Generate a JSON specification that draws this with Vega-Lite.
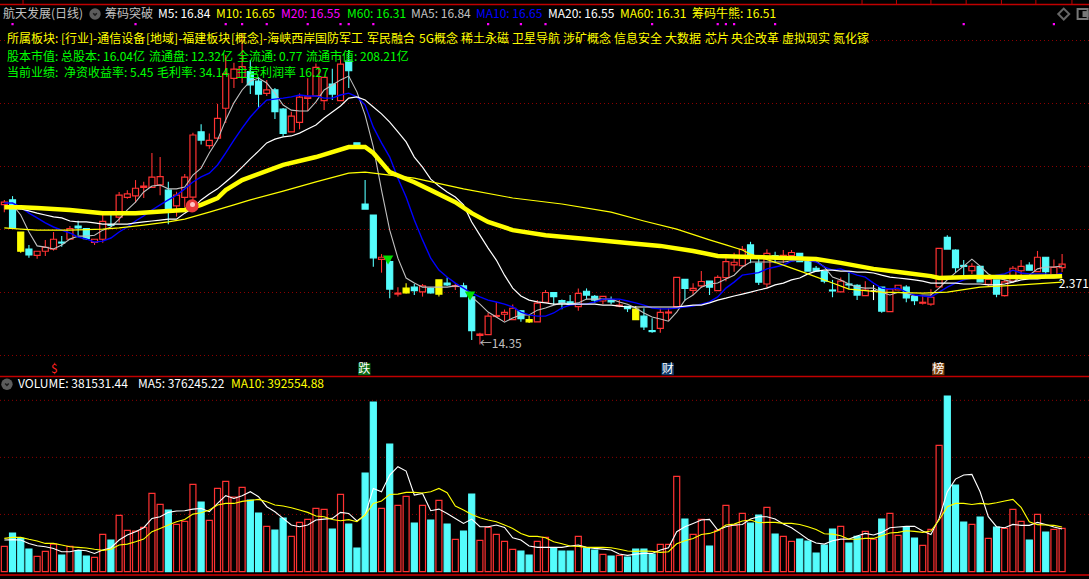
{"$schema":"https://vega.github.io/schema/vega-lite/v6.json","background":"#000000","padding":0,"autosize":{"type":"none"},"width":1089,"height":579,"config":{"view":{"stroke":null},"text":{"font":"Noto Sans CJK SC"}},
"datasets":{"bars":[
{"i":0,"k":"up","o":18.79,"h":18.94,"l":18.55,"c":18.87,"m10":18.84,"vol":222.9,"vk":"up","v5":279,"v10":293},
{"i":1,"k":"down","o":18.94,"h":19.06,"l":18.05,"c":18.05,"m5":18.78,"m10":18.84,"m20":18.68,"vol":340.2,"vk":"down","v5":282,"v10":302},
{"i":2,"k":"yel","o":17.92,"h":17.92,"l":17.26,"c":17.31,"m5":18.46,"m10":18.71,"m20":18.65,"vol":293.3,"vk":"down","v5":279,"v10":302},
{"i":3,"k":"down","o":17.38,"h":17.51,"l":17.10,"c":17.19,"m5":17.92,"m10":18.52,"m20":18.59,"vol":199.4,"vk":"down","v5":249,"v10":285},
{"i":4,"k":"up","o":17.18,"h":17.31,"l":17.07,"c":17.31,"m5":17.48,"m10":18.37,"m20":18.52,"vol":134.9,"vk":"up","v5":229,"v10":270},
{"i":5,"k":"up","o":17.31,"h":17.67,"l":17.16,"c":17.43,"m5":17.44,"m10":18.21,"m20":18.46,"vol":178.9,"vk":"up","v5":220,"v10":249},
{"i":6,"k":"up","o":17.38,"h":17.92,"l":17.33,"c":17.69,"m5":17.38,"m10":18.08,"m20":18.40,"vol":243.4,"vk":"up","v5":205,"v10":249},
{"i":7,"k":"down","o":17.60,"h":17.79,"l":17.45,"c":17.57,"m5":17.51,"m10":17.98,"m20":18.37,"vol":146.7,"vk":"down","v5":176,"v10":235},
{"i":8,"k":"up","o":17.69,"h":18.11,"l":17.67,"c":18.03,"m5":17.70,"m10":17.89,"m20":18.27,"vol":222.9,"vk":"up","v5":176,"v10":220},
{"i":9,"k":"down","o":18.11,"h":18.28,"l":17.82,"c":18.05,"m5":17.79,"m10":17.76,"m20":18.24,"vol":184.8,"vk":"down","v5":191,"v10":214},
{"i":10,"k":"down","o":18.03,"h":18.03,"l":17.67,"c":17.71,"m5":17.79,"m10":17.70,"m20":18.24,"vol":137.9,"vk":"down","v5":185,"v10":208},
{"i":11,"k":"up","o":17.59,"h":17.69,"l":17.51,"c":17.69,"m5":17.82,"m10":17.60,"m20":18.21,"vol":126.1,"vk":"up","v5":161,"v10":197},
{"i":12,"k":"up","o":17.69,"h":18.46,"l":17.58,"c":18.26,"m5":17.98,"m10":17.63,"m20":18.17,"vol":328.5,"vk":"up","v5":191,"v10":188},
{"i":13,"k":"down","o":18.15,"h":18.59,"l":18.09,"c":18.13,"m5":18.08,"m10":17.73,"m20":18.17,"vol":278.6,"vk":"down","v5":211,"v10":197},
{"i":14,"k":"up","o":18.39,"h":19.19,"l":18.22,"c":19.09,"m5":18.33,"m10":17.92,"m20":18.17,"vol":495.7,"vk":"up","v5":279,"v10":235},
{"i":15,"k":"up","o":19.02,"h":19.25,"l":18.98,"c":19.13,"m5":18.62,"m10":18.08,"m20":18.17,"vol":363.7,"vk":"up","v5":323,"v10":243},
{"i":16,"k":"up","o":19.07,"h":19.57,"l":18.85,"c":19.31,"m5":18.87,"m10":18.27,"m20":18.21,"vol":357.8,"vk":"up","v5":352,"v10":264},
{"i":17,"k":"up","o":19.34,"h":19.52,"l":19.00,"c":19.38,"m5":19.19,"m10":18.43,"m20":18.24,"vol":390.1,"vk":"up","v5":387,"v10":287},
{"i":18,"k":"up","o":19.34,"h":20.43,"l":19.34,"c":19.66,"m5":19.38,"m10":18.62,"m20":18.27,"vol":689.3,"vk":"up","v5":469,"v10":352},
{"i":19,"k":"up","o":19.42,"h":20.30,"l":19.09,"c":19.68,"m5":19.41,"m10":18.78,"m20":18.30,"vol":592.5,"vk":"up","v5":484,"v10":381},
{"i":20,"k":"down","o":19.25,"h":19.52,"l":18.17,"c":18.64,"m5":19.29,"m10":18.94,"m20":18.33,"vol":542.6,"vk":"down","v5":522,"v10":411},
{"i":21,"k":"up","o":18.75,"h":19.20,"l":18.41,"c":19.09,"m5":19.29,"m10":19.09,"m20":18.33,"vol":416.5,"vk":"up","v5":534,"v10":440},
{"i":22,"k":"up","o":19.02,"h":19.76,"l":18.71,"c":19.66,"m5":19.35,"m10":19.29,"m20":18.52,"vol":442.9,"vk":"up","v5":537,"v10":460},
{"i":23,"k":"up","o":19.03,"h":21.07,"l":18.78,"c":21.00,"m5":19.73,"m10":19.51,"m20":18.68,"vol":768.4,"vk":"up","v5":551,"v10":507},
{"i":24,"k":"down","o":21.10,"h":21.34,"l":20.70,"c":20.84,"m5":19.95,"m10":19.67,"m20":18.94,"vol":613.0,"vk":"down","v5":557,"v10":519},
{"i":25,"k":"up","o":20.66,"h":21.05,"l":20.56,"c":20.83,"m5":20.43,"m10":19.79,"m20":19.13,"vol":451.7,"vk":"up","v5":528,"v10":543},
{"i":26,"k":"up","o":20.90,"h":21.99,"l":20.90,"c":21.53,"m5":20.84,"m10":20.05,"m20":19.29,"vol":733.3,"vk":"up","v5":601,"v10":587},
{"i":27,"k":"up","o":21.85,"h":23.54,"l":21.38,"c":22.94,"m5":21.48,"m10":20.43,"m20":19.51,"vol":794.8,"vk":"up","v5":669,"v10":601},
{"i":28,"k":"up","o":22.80,"h":23.29,"l":22.49,"c":23.09,"m5":22.02,"m10":20.84,"m20":19.73,"vol":657.0,"vk":"up","v5":645,"v10":601},
{"i":29,"k":"up","o":22.83,"h":24.24,"l":22.65,"c":23.17,"m5":22.43,"m10":21.22,"m20":19.98,"vol":742.0,"vk":"up","v5":669,"v10":619},
{"i":30,"k":"down","o":23.01,"h":23.38,"l":22.30,"c":22.59,"m5":22.71,"m10":21.57,"m20":20.24,"vol":630.6,"vk":"down","v5":704,"v10":628},
{"i":31,"k":"down","o":22.71,"h":22.84,"l":21.86,"c":22.30,"m5":22.81,"m10":21.86,"m20":20.49,"vol":516.2,"vk":"down","v5":660,"v10":636},
{"i":32,"k":"up","o":22.32,"h":22.75,"l":22.24,"c":22.43,"m5":22.65,"m10":22.11,"m20":20.75,"vol":398.9,"vk":"up","v5":572,"v10":616},
{"i":33,"k":"down","o":22.43,"h":22.49,"l":21.51,"c":21.74,"m5":22.33,"m10":22.14,"m20":20.87,"vol":366.6,"vk":"down","v5":528,"v10":587},
{"i":34,"k":"down","o":21.82,"h":21.86,"l":20.95,"c":21.05,"m5":21.95,"m10":22.17,"m20":20.94,"vol":472.2,"vk":"down","v5":469,"v10":578},
{"i":35,"k":"up","o":21.10,"h":21.74,"l":21.10,"c":21.60,"m5":21.79,"m10":22.21,"m20":20.97,"vol":310.9,"vk":"up","v5":411,"v10":563},
{"i":36,"k":"up","o":21.40,"h":22.32,"l":21.18,"c":22.20,"m5":21.76,"m10":22.27,"m20":21.06,"vol":434.1,"vk":"up","v5":396,"v10":543},
{"i":37,"k":"up","o":22.16,"h":22.80,"l":21.76,"c":22.21,"m5":21.76,"m10":22.24,"m20":21.19,"vol":460.5,"vk":"up","v5":411,"v10":522},
{"i":38,"k":"up","o":22.24,"h":23.27,"l":22.24,"c":23.15,"m5":22.05,"m10":22.24,"m20":21.32,"vol":557.3,"vk":"up","v5":455,"v10":490},
{"i":39,"k":"up","o":22.09,"h":22.83,"l":21.79,"c":22.83,"m5":22.43,"m10":22.17,"m20":21.54,"vol":548.5,"vk":"up","v5":463,"v10":484},
{"i":40,"k":"down","o":22.62,"h":23.10,"l":22.11,"c":22.30,"m5":22.59,"m10":22.17,"m20":21.73,"vol":375.4,"vk":"down","v5":469,"v10":460},
{"i":41,"k":"up","o":22.09,"h":23.54,"l":22.09,"c":23.25,"m5":22.75,"m10":22.27,"m20":21.92,"vol":680.5,"vk":"up","v5":522,"v10":449},
{"i":42,"k":"down","o":23.35,"h":23.70,"l":22.49,"c":23.04,"m5":22.87,"m10":22.33,"m20":22.17,"vol":419.4,"vk":"down","v5":513,"v10":458},
{"i":43,"k":"down","o":20.75,"h":20.75,"l":20.68,"c":20.68,"m5":22.37,"m10":22.21,"m20":22.21,"vol":208.2,"vk":"down","v5":446,"v10":440},
{"i":44,"k":"down","o":18.81,"h":19.57,"l":18.65,"c":18.65,"m5":21.63,"m10":21.95,"m20":22.11,"vol":868.2,"vk":"down","v5":499,"v10":499},
{"i":45,"k":"down","o":18.46,"h":18.46,"l":16.82,"c":17.10,"m5":20.62,"m10":21.25,"m20":21.89,"vol":1492.9,"vk":"down","v5":733,"v10":601},
{"i":46,"k":"up","o":17.05,"h":17.22,"l":16.63,"c":17.12,"m5":19.25,"m10":20.75,"m20":21.67,"vol":557.3,"vk":"up","v5":704,"v10":622},
{"i":47,"k":"down","o":16.98,"h":17.16,"l":15.82,"c":16.11,"m5":17.98,"m10":20.30,"m20":21.41,"vol":1123.3,"vk":"down","v5":851,"v10":680},
{"i":48,"k":"up","o":15.95,"h":16.17,"l":15.87,"c":15.98,"m5":17.09,"m10":19.63,"m20":21.10,"vol":583.7,"vk":"up","v5":924,"v10":683},
{"i":49,"k":"yel","o":16.14,"h":16.29,"l":15.97,"c":15.99,"m5":16.46,"m10":19.03,"m20":20.78,"vol":662.9,"vk":"up","v5":886,"v10":698},
{"i":50,"k":"down","o":16.17,"h":16.27,"l":15.92,"c":16.06,"m5":16.30,"m10":18.30,"m20":20.30,"vol":428.2,"vk":"down","v5":675,"v10":698},
{"i":51,"k":"up","o":16.02,"h":16.27,"l":15.87,"c":16.21,"m5":16.17,"m10":17.67,"m20":19.98,"vol":583.7,"vk":"up","v5":689,"v10":692},
{"i":52,"k":"down","o":16.13,"h":16.16,"l":15.97,"c":15.99,"m5":16.17,"m10":17.09,"m20":19.60,"vol":454.6,"vk":"down","v5":537,"v10":704},
{"i":53,"k":"yel","o":16.40,"h":16.40,"l":15.87,"c":15.95,"m5":16.17,"m10":16.71,"m20":19.38,"vol":627.7,"vk":"up","v5":551,"v10":733},
{"i":54,"k":"down","o":16.30,"h":16.48,"l":16.21,"c":16.24,"m5":16.17,"m10":16.49,"m20":19.19,"vol":419.4,"vk":"down","v5":513,"v10":695},
{"i":55,"k":"up","o":16.19,"h":16.29,"l":16.08,"c":16.22,"m5":16.21,"m10":16.30,"m20":19.03,"vol":284.5,"vk":"up","v5":469,"v10":578},
{"i":56,"k":"down","o":16.21,"h":16.31,"l":15.87,"c":15.87,"m5":16.17,"m10":16.14,"m20":18.78,"vol":357.8,"vk":"down","v5":425,"v10":543},
{"i":57,"k":"down","o":15.86,"h":15.98,"l":14.49,"c":14.79,"m5":15.86,"m10":15.98,"m20":18.24,"vol":683.4,"vk":"down","v5":463,"v10":504},
{"i":58,"k":"up","o":14.64,"h":14.72,"l":14.35,"c":14.68,"m5":15.63,"m10":15.86,"m20":17.82,"vol":275.7,"vk":"up","v5":396,"v10":475},
{"i":59,"k":"up","o":14.66,"h":15.35,"l":14.66,"c":15.25,"m5":15.38,"m10":15.76,"m20":17.41,"vol":390.1,"vk":"up","v5":396,"v10":455},
{"i":60,"k":"up","o":15.24,"h":15.69,"l":15.21,"c":15.27,"m5":15.22,"m10":15.70,"m20":17.03,"vol":328.5,"vk":"up","v5":411,"v10":440},
{"i":61,"k":"up","o":15.31,"h":15.46,"l":15.09,"c":15.37,"m5":15.06,"m10":15.63,"m20":16.55,"vol":266.9,"vk":"up","v5":390,"v10":411},
{"i":62,"k":"up","o":15.14,"h":15.62,"l":15.14,"c":15.50,"m5":15.19,"m10":15.54,"m20":16.14,"vol":196.5,"vk":"up","v5":299,"v10":381},
{"i":63,"k":"down","o":15.42,"h":15.44,"l":15.07,"c":15.17,"m5":15.29,"m10":15.38,"m20":15.89,"vol":181.8,"vk":"down","v5":279,"v10":337},
{"i":64,"k":"yel","o":15.14,"h":15.28,"l":15.03,"c":15.07,"m5":15.29,"m10":15.29,"m20":15.76,"vol":146.7,"vk":"down","v5":226,"v10":311},
{"i":65,"k":"up","o":15.07,"h":15.76,"l":15.07,"c":15.66,"m5":15.44,"m10":15.25,"m20":15.70,"vol":266.9,"vk":"up","v5":214,"v10":311},
{"i":66,"k":"up","o":15.69,"h":16.08,"l":15.69,"c":16.00,"m5":15.51,"m10":15.25,"m20":15.67,"vol":302.1,"vk":"up","v5":214,"v10":299},
{"i":67,"k":"down","o":16.00,"h":16.00,"l":15.60,"c":15.87,"m5":15.60,"m10":15.35,"m20":15.63,"vol":208.2,"vk":"down","v5":214,"v10":264},
{"i":68,"k":"down","o":15.74,"h":15.78,"l":15.47,"c":15.68,"m5":15.67,"m10":15.51,"m20":15.63,"vol":181.8,"vk":"down","v5":214,"v10":246},
{"i":69,"k":"down","o":15.70,"h":15.92,"l":15.60,"c":15.62,"m5":15.63,"m10":15.60,"m20":15.63,"vol":181.8,"vk":"down","v5":226,"v10":226},
{"i":70,"k":"up","o":15.55,"h":16.13,"l":15.42,"c":15.97,"m5":15.67,"m10":15.63,"m20":15.63,"vol":310.9,"vk":"up","v5":235,"v10":223},
{"i":71,"k":"down","o":16.04,"h":16.13,"l":15.78,"c":15.92,"m5":15.79,"m10":15.63,"m20":15.63,"vol":208.2,"vk":"down","v5":214,"v10":214},
{"i":72,"k":"down","o":15.88,"h":15.92,"l":15.67,"c":15.76,"m5":15.79,"m10":15.70,"m20":15.63,"vol":190.6,"vk":"down","v5":205,"v10":214},
{"i":73,"k":"up","o":15.73,"h":15.88,"l":15.63,"c":15.88,"m5":15.79,"m10":15.79,"m20":15.60,"vol":152.5,"vk":"up","v5":199,"v10":214},
{"i":74,"k":"down","o":15.76,"h":15.87,"l":15.63,"c":15.70,"m5":15.79,"m10":15.79,"m20":15.60,"vol":137.9,"vk":"down","v5":191,"v10":211},
{"i":75,"k":"up","o":15.57,"h":15.76,"l":15.53,"c":15.60,"m5":15.70,"m10":15.79,"m20":15.57,"vol":143.7,"vk":"up","v5":155,"v10":197},
{"i":76,"k":"down","o":15.56,"h":15.56,"l":15.38,"c":15.49,"m5":15.63,"m10":15.73,"m20":15.54,"vol":129.1,"vk":"down","v5":144,"v10":182},
{"i":77,"k":"yel","o":15.47,"h":15.57,"l":15.14,"c":15.14,"m5":15.51,"m10":15.67,"m20":15.54,"vol":199.4,"vk":"down","v5":155,"v10":179},
{"i":78,"k":"down","o":15.25,"h":15.50,"l":14.81,"c":14.91,"m5":15.35,"m10":15.60,"m20":15.54,"vol":199.4,"vk":"down","v5":161,"v10":182},
{"i":79,"k":"down","o":14.79,"h":15.18,"l":14.72,"c":14.76,"m5":15.22,"m10":15.51,"m20":15.54,"vol":155.4,"vk":"down","v5":161,"v10":179},
{"i":80,"k":"up","o":14.86,"h":15.50,"l":14.72,"c":15.37,"m5":15.16,"m10":15.48,"m20":15.54,"vol":240.5,"vk":"up","v5":191,"v10":170},
{"i":81,"k":"up","o":15.35,"h":15.50,"l":15.10,"c":15.38,"m5":15.09,"m10":15.48,"m20":15.54,"vol":240.5,"vk":"up","v5":211,"v10":176},
{"i":82,"k":"up","o":15.55,"h":16.48,"l":15.55,"c":16.48,"m5":15.38,"m10":15.51,"m20":15.54,"vol":838.8,"vk":"up","v5":352,"v10":246},
{"i":83,"k":"down","o":16.42,"h":16.42,"l":15.74,"c":16.13,"m5":15.76,"m10":15.54,"m20":15.57,"vol":463.4,"vk":"down","v5":396,"v10":273},
{"i":84,"k":"up","o":16.07,"h":16.29,"l":15.92,"c":16.13,"m5":15.92,"m10":15.57,"m20":15.60,"vol":328.5,"vk":"up","v5":425,"v10":293},
{"i":85,"k":"up","o":16.21,"h":16.68,"l":16.15,"c":16.35,"m5":16.17,"m10":15.63,"m20":15.60,"vol":460.5,"vk":"up","v5":455,"v10":328},
{"i":86,"k":"down","o":16.36,"h":16.36,"l":15.92,"c":16.17,"m5":16.27,"m10":15.70,"m20":15.67,"vol":225.8,"vk":"down","v5":460,"v10":337},
{"i":87,"k":"up","o":16.06,"h":16.55,"l":16.06,"c":16.48,"m5":16.30,"m10":15.86,"m20":15.76,"vol":363.7,"vk":"up","v5":367,"v10":361},
{"i":88,"k":"up","o":16.47,"h":17.10,"l":16.36,"c":16.98,"m5":16.43,"m10":16.14,"m20":15.82,"vol":583.7,"vk":"up","v5":396,"v10":411},
{"i":89,"k":"up","o":16.88,"h":17.26,"l":16.66,"c":16.96,"m5":16.55,"m10":16.33,"m20":15.89,"vol":407.7,"vk":"up","v5":411,"v10":419},
{"i":90,"k":"up","o":16.85,"h":17.48,"l":16.80,"c":17.37,"m5":16.81,"m10":16.55,"m20":15.95,"vol":513.3,"vk":"up","v5":416,"v10":446},
{"i":91,"k":"down","o":17.51,"h":17.61,"l":16.93,"c":17.09,"m5":16.97,"m10":16.59,"m20":16.01,"vol":428.2,"vk":"down","v5":463,"v10":455},
{"i":92,"k":"down","o":16.93,"h":17.09,"l":16.24,"c":16.33,"m5":16.97,"m10":16.63,"m20":16.08,"vol":498.6,"vk":"down","v5":484,"v10":431},
{"i":93,"k":"up","o":16.27,"h":17.37,"l":16.14,"c":17.24,"m5":16.97,"m10":16.75,"m20":16.14,"vol":566.1,"vk":"up","v5":484,"v10":434},
{"i":94,"k":"down","o":17.17,"h":17.29,"l":16.93,"c":17.14,"m5":16.97,"m10":16.81,"m20":16.24,"vol":331.4,"vk":"down","v5":463,"v10":434},
{"i":95,"k":"up","o":17.06,"h":17.35,"l":16.93,"c":17.18,"m5":16.97,"m10":16.87,"m20":16.30,"vol":310.9,"vk":"up","v5":419,"v10":425},
{"i":96,"k":"up","o":17.17,"h":17.35,"l":17.09,"c":17.27,"m5":17.00,"m10":17.00,"m20":16.40,"vol":266.9,"vk":"up","v5":387,"v10":425},
{"i":97,"k":"down","o":17.24,"h":17.24,"l":16.98,"c":16.98,"m5":17.03,"m10":17.03,"m20":16.46,"vol":287.4,"vk":"down","v5":337,"v10":416},
{"i":98,"k":"down","o":16.98,"h":16.98,"l":16.68,"c":16.68,"m5":17.00,"m10":17.03,"m20":16.59,"vol":269.8,"vk":"down","v5":285,"v10":396},
{"i":99,"k":"down","o":16.77,"h":16.84,"l":16.66,"c":16.68,"m5":17.00,"m10":16.97,"m20":16.68,"vol":164.2,"vk":"down","v5":252,"v10":372},
{"i":100,"k":"down","o":16.66,"h":16.66,"l":16.29,"c":16.36,"m5":16.81,"m10":16.81,"m20":16.71,"vol":234.6,"vk":"down","v5":243,"v10":334},
{"i":101,"k":"down","o":16.08,"h":16.40,"l":15.85,"c":16.05,"m5":16.49,"m10":16.71,"m20":16.71,"vol":375.4,"vk":"down","v5":273,"v10":331},
{"i":102,"k":"up","o":16.02,"h":16.48,"l":16.02,"c":16.36,"m5":16.40,"m10":16.75,"m20":16.68,"vol":398.9,"vk":"up","v5":287,"v10":317},
{"i":103,"k":"down","o":16.27,"h":16.63,"l":16.10,"c":16.24,"m5":16.27,"m10":16.65,"m20":16.68,"vol":252.2,"vk":"down","v5":287,"v10":285},
{"i":104,"k":"down","o":16.23,"h":16.26,"l":15.76,"c":15.92,"m5":16.17,"m10":16.55,"m20":16.65,"vol":310.9,"vk":"down","v5":314,"v10":285},
{"i":105,"k":"up","o":15.90,"h":16.36,"l":15.90,"c":16.08,"m5":16.14,"m10":16.49,"m20":16.65,"vol":354.9,"vk":"up","v5":337,"v10":293},
{"i":106,"k":"wht","o":16.05,"h":16.24,"l":15.76,"c":16.05,"m5":16.14,"m10":16.30,"m20":16.62,"vol":287.4,"vk":"up","v5":323,"v10":293},
{"i":107,"k":"down","o":16.17,"h":16.17,"l":15.36,"c":15.41,"m5":16.01,"m10":16.14,"m20":16.55,"vol":463.4,"vk":"down","v5":346,"v10":317},
{"i":108,"k":"up","o":15.39,"h":16.11,"l":15.39,"c":16.11,"m5":15.92,"m10":16.11,"m20":16.49,"vol":513.3,"vk":"up","v5":387,"v10":340},
{"i":109,"k":"up","o":16.08,"h":16.23,"l":16.08,"c":16.23,"m5":16.01,"m10":16.14,"m20":16.46,"vol":319.7,"vk":"up","v5":393,"v10":346},
{"i":110,"k":"down","o":16.17,"h":16.23,"l":15.69,"c":15.83,"m5":15.98,"m10":16.01,"m20":16.43,"vol":396.0,"vk":"down","v5":399,"v10":361},
{"i":111,"k":"down","o":15.87,"h":15.92,"l":15.60,"c":15.74,"m5":15.89,"m10":15.92,"m20":16.40,"vol":296.2,"vk":"down","v5":399,"v10":355},
{"i":112,"k":"up","o":15.66,"h":15.92,"l":15.62,"c":15.69,"m5":15.92,"m10":15.89,"m20":16.36,"vol":231.7,"vk":"up","v5":358,"v10":346},
{"i":113,"k":"up","o":15.63,"h":16.10,"l":15.58,"c":15.85,"m5":15.92,"m10":15.86,"m20":16.30,"vol":372.5,"vk":"up","v5":328,"v10":358},
{"i":114,"k":"up","o":16.18,"h":17.40,"l":16.18,"c":17.40,"m5":16.14,"m10":16.01,"m20":16.30,"vol":1111.6,"vk":"up","v5":469,"v10":455},
{"i":115,"k":"down","o":17.75,"h":17.82,"l":17.38,"c":17.38,"m5":16.40,"m10":16.17,"m20":16.30,"vol":1545.7,"vk":"down","v5":704,"v10":572},
{"i":116,"k":"down","o":17.35,"h":17.37,"l":16.63,"c":16.79,"m5":16.63,"m10":16.30,"m20":16.30,"vol":762.6,"vk":"down","v5":815,"v10":601},
{"i":117,"k":"down","o":16.86,"h":17.03,"l":16.55,"c":16.83,"m5":16.84,"m10":16.40,"m20":16.27,"vol":437.0,"vk":"down","v5":851,"v10":601},
{"i":118,"k":"up","o":16.69,"h":16.93,"l":16.59,"c":16.83,"m5":17.06,"m10":16.46,"m20":16.27,"vol":416.5,"vk":"up","v5":856,"v10":592},
{"i":119,"k":"down","o":16.83,"h":16.83,"l":16.34,"c":16.34,"m5":16.84,"m10":16.46,"m20":16.27,"vol":481.0,"vk":"down","v5":704,"v10":601},
{"i":120,"k":"up","o":16.26,"h":16.55,"l":16.18,"c":16.42,"m5":16.59,"m10":16.49,"m20":16.24,"vol":293.3,"vk":"up","v5":484,"v10":595},
{"i":121,"k":"down","o":16.40,"h":16.40,"l":15.85,"c":15.95,"m5":16.46,"m10":16.55,"m20":16.24,"vol":393.0,"vk":"down","v5":396,"v10":607},
{"i":122,"k":"up","o":15.90,"h":16.46,"l":15.87,"c":16.34,"m5":16.40,"m10":16.59,"m20":16.27,"vol":381.3,"vk":"up","v5":387,"v10":622},
{"i":123,"k":"up","o":16.36,"h":16.84,"l":16.36,"c":16.77,"m5":16.33,"m10":16.71,"m20":16.33,"vol":548.5,"vk":"up","v5":416,"v10":636},
{"i":124,"k":"up","o":16.69,"h":17.03,"l":16.55,"c":16.83,"m5":16.49,"m10":16.62,"m20":16.40,"vol":442.9,"vk":"up","v5":408,"v10":566},
{"i":125,"k":"down","o":16.87,"h":16.96,"l":16.71,"c":16.71,"m5":16.55,"m10":16.59,"m20":16.43,"vol":278.6,"vk":"down","v5":408,"v10":440},
{"i":126,"k":"up","o":16.66,"h":17.32,"l":16.66,"c":17.12,"m5":16.75,"m10":16.59,"m20":16.43,"vol":504.5,"vk":"up","v5":434,"v10":414},
{"i":127,"k":"down","o":17.12,"h":17.12,"l":16.52,"c":16.66,"m5":16.81,"m10":16.59,"m20":16.46,"vol":349.0,"vk":"down","v5":416,"v10":411},
{"i":128,"k":"up","o":16.55,"h":17.05,"l":16.55,"c":16.80,"m5":16.81,"m10":16.55,"m20":16.46,"vol":372.5,"vk":"up","v5":393,"v10":408},
{"i":129,"k":"up","o":16.79,"h":17.22,"l":16.65,"c":16.90,"m5":16.84,"m10":16.61,"m20":16.49,"vol":381.5,"vk":"up","v5":376,"v10":393}
],
"thick":[{"i":0,"p":18.71},{"i":2,"p":18.71},{"i":4,"p":18.68},{"i":8,"p":18.62},{"i":12,"p":18.52},{"i":16,"p":18.52},{"i":20,"p":18.59},{"i":22,"p":18.62},{"i":24,"p":18.78},{"i":26,"p":19.0},{"i":27,"p":19.25},{"i":29,"p":19.57},{"i":34,"p":20.05},{"i":38,"p":20.3},{"i":42,"p":20.62},{"i":44,"p":20.62},{"i":45,"p":20.43},{"i":47,"p":19.82},{"i":50,"p":19.5},{"i":52,"p":19.25},{"i":55,"p":18.87},{"i":57,"p":18.52},{"i":59,"p":18.24},{"i":62,"p":17.98},{"i":66,"p":17.82},{"i":71,"p":17.7},{"i":76,"p":17.57},{"i":80,"p":17.48},{"i":84,"p":17.32},{"i":87,"p":17.16},{"i":91,"p":17.13},{"i":99,"p":17.06},{"i":102,"p":16.94},{"i":106,"p":16.75},{"i":110,"p":16.62},{"i":113,"p":16.52},{"i":114,"p":16.46},{"i":118,"p":16.49},{"i":124,"p":16.49},{"i":129,"p":16.52}],
"thin":[{"i":0,"p":18.05},{"i":2,"p":18.01},{"i":4,"p":17.98},{"i":8,"p":17.98},{"i":12,"p":18.01},{"i":14,"p":18.05},{"i":17,"p":18.14},{"i":20,"p":18.24},{"i":22,"p":18.33},{"i":25,"p":18.55},{"i":28,"p":18.78},{"i":30,"p":18.94},{"i":34,"p":19.22},{"i":38,"p":19.51},{"i":42,"p":19.79},{"i":44,"p":19.82},{"i":50,"p":19.63},{"i":56,"p":19.29},{"i":62,"p":19.0},{"i":68,"p":18.81},{"i":74,"p":18.55},{"i":78,"p":18.27},{"i":82,"p":18.01},{"i":86,"p":17.67},{"i":88,"p":17.51},{"i":90,"p":17.35},{"i":91,"p":17.22},{"i":95,"p":16.87},{"i":98,"p":16.59},{"i":101,"p":16.3},{"i":103,"p":16.11},{"i":107,"p":16.01},{"i":112,"p":15.98},{"i":115,"p":16.01},{"i":119,"p":16.17},{"i":124,"p":16.24},{"i":129,"p":16.33}],
"gridTop":[{"p":24},{"p":22},{"p":20},{"p":18},{"p":16},{"p":14}],
"gridVol":[{"v":504},{"v":1006},{"v":1508}],
"dots":[{"i":1},{"i":16},{"i":27},{"i":29},{"i":32},{"i":37},{"i":41},{"i":42},{"i":45},{"i":59},{"i":63},{"i":66},{"i":79},{"i":87},{"i":88},{"i":89},{"i":94},{"i":117},{"i":128}],
"tabs":[{"i":2.28},{"i":104.6},{"i":108.8},{"i":113},{"i":117.3},{"i":121.6},{"i":125.8},{"i":130.2}],
"signals":[{"i":46.8,"p":17.03},{"i":56.8,"p":15.89}],
"badges":[{"i":43.9,"p":13.57,"b":"跌"},{"i":80.9,"p":13.57,"b":"财"},{"i":113.9,"p":13.57,"b":"榜"}],
"texts":[
{"t":"航天发展(日线)","i":-0.16,"p":24.84,"tone":"gray"},{"t":"筹码突破","i":12.28,"p":24.84,"tone":"gray"},
{"t":"M5: 16.84","i":18.74,"p":24.84,"tone":"white"},{"t":"M10: 16.65","i":25.81,"p":24.84,"tone":"yellow"},{"t":"M20: 16.55","i":33.74,"p":24.84,"tone":"magenta"},{"t":"M60: 16.31","i":41.79,"p":24.84,"tone":"green"},{"t":"MA5: 16.84","i":49.6,"p":24.84,"tone":"gray"},{"t":"MA10: 16.65","i":57.52,"p":24.84,"tone":"blue"},{"t":"MA20: 16.55","i":66.3,"p":24.84,"tone":"white"},{"t":"MA60: 16.31","i":75.08,"p":24.84,"tone":"yellow"},{"t":"筹码牛熊: 16.51","i":83.87,"p":24.84,"tone":"yellow"},
{"t":"所属板块:","i":0.33,"p":24.05,"tone":"yellow"},{"t":"[行业]-通信设备","i":6.91,"p":24.05,"tone":"yellow"},{"t":"[地域]-福建板块","i":17.28,"p":24.05,"tone":"yellow"},{"t":"[概念]-海峡西岸","i":27.64,"p":24.05,"tone":"yellow"},{"t":"国防军工","i":37.89,"p":24.05,"tone":"yellow"},{"t":"军民融合","i":44.23,"p":24.05,"tone":"yellow"},{"t":"5G概念","i":50.57,"p":24.05,"tone":"yellow"},{"t":"稀土永磁","i":55.69,"p":24.05,"tone":"yellow"},{"t":"卫星导航","i":61.91,"p":24.05,"tone":"yellow"},{"t":"涉矿概念","i":68.13,"p":24.05,"tone":"yellow"},{"t":"信息安全","i":74.35,"p":24.05,"tone":"yellow"},{"t":"大数据","i":80.57,"p":24.05,"tone":"yellow"},{"t":"芯片","i":85.45,"p":24.05,"tone":"yellow"},{"t":"央企改革","i":88.62,"p":24.05,"tone":"yellow"},{"t":"虚拟现实","i":94.84,"p":24.05,"tone":"yellow"},{"t":"氮化镓","i":101.06,"p":24.05,"tone":"yellow"},
{"t":"股本市值:","i":0.33,"p":23.48,"tone":"green"},{"t":"总股本: 16.04亿","i":6.91,"p":23.48,"tone":"green"},{"t":"流通盘: 12.32亿","i":17.64,"p":23.48,"tone":"green"},{"t":"全流通: 0.77","i":28.37,"p":23.48,"tone":"green"},{"t":"流通市值: 208.21亿","i":36.79,"p":23.48,"tone":"green"},
{"t":"当前业绩:","i":0.33,"p":22.97,"tone":"green"},{"t":"净资收益率: 5.45","i":7.28,"p":22.97,"tone":"green"},{"t":"毛利率: 34.14","i":18.62,"p":22.97,"tone":"green"},{"t":"主营利润率 16.27","i":28.25,"p":22.97,"tone":"green"},
{"t":"←14.35","i":57.98,"p":14.37,"tone":"gray"},{"t":"2.371","i":128.6,"p":16.27,"tone":"white"},{"t":"$","i":5.7,"p":13.57,"tone":"red"}],
"volTexts":[{"t":"VOLUME: 381531.44","i":1.67,"v":1649,"tone":"white"},{"t":"MA5: 376245.22","i":16.3,"v":1649,"tone":"white"},{"t":"MA10: 392554.88","i":27.64,"v":1649,"tone":"yellow"}]
},
"resolve":{"scale":{"y":"independent"}},
"layer":[
{"layer":[
{"data":{"name":"gridTop"},"mark":{"type":"rule","stroke":"#8c0000","strokeDash":[1,3],"strokeWidth":1},"encoding":{"y":{"field":"p","type":"quantitative","scale":{"domain":[6.905,25.286],"nice":false,"zero":false},"axis":null}}},
{"data":{"values":[{"p":25.14},{"p":13.33}]},"mark":{"type":"rule","stroke":"#c00000","strokeWidth":1.5},"encoding":{"y":{"field":"p","type":"quantitative"}}},
{"data":{"name":"tabs"},"mark":{"type":"rule","stroke":"#c00000","strokeWidth":1},"encoding":{"x":{"field":"i","type":"quantitative","scale":{"domain":[-0.528,132.28],"nice":false,"zero":false,"padding":0},"axis":null},"y":{"datum":25.286,"type":"quantitative"},"y2":{"datum":25.16}}},
{"data":{"name":"dots"},"mark":{"type":"point","shape":"square","filled":true,"color":"#ff00ff","opacity":1,"size":5},"encoding":{"x":{"field":"i","type":"quantitative"},"y":{"datum":24.52,"type":"quantitative"}}},
{"data":{"name":"bars"},"mark":{"type":"rule","strokeWidth":1.1},"encoding":{"x":{"field":"i","type":"quantitative"},"y":{"field":"l","type":"quantitative"},"y2":{"field":"h"},"stroke":{"field":"k","type":"nominal","scale":{"domain":["up","down","yel","wht"],"range":["#ff3232","#54fcfc","#ffff00","#ffffff"]},"legend":null}}},
{"data":{"name":"bars"},"mark":{"type":"bar","size":6,"strokeWidth":1.2},"encoding":{"x":{"field":"i","type":"quantitative"},"y":{"field":"o","type":"quantitative"},"y2":{"field":"c"},"stroke":{"field":"k","type":"nominal","legend":null},"fill":{"field":"k","type":"nominal","scale":{"domain":["up","down","yel","wht"],"range":["#000000","#54fcfc","#ffff00","#ffffff"]},"legend":null}}},
{"data":{"name":"bars"},"mark":{"type":"line","stroke":"#c0c0c0","strokeWidth":1.1},"encoding":{"x":{"field":"i","type":"quantitative"},"y":{"field":"m5","type":"quantitative"}}},
{"data":{"name":"bars"},"mark":{"type":"line","stroke":"#0000ff","strokeWidth":1.4},"encoding":{"x":{"field":"i","type":"quantitative"},"y":{"field":"m10","type":"quantitative"}}},
{"data":{"name":"bars"},"mark":{"type":"line","stroke":"#ffffff","strokeWidth":1.2},"encoding":{"x":{"field":"i","type":"quantitative"},"y":{"field":"m20","type":"quantitative"}}},
{"data":{"name":"thin"},"mark":{"type":"line","stroke":"#ffff00","strokeWidth":1.2},"encoding":{"x":{"field":"i","type":"quantitative"},"y":{"field":"p","type":"quantitative"}}},
{"data":{"name":"thick"},"mark":{"type":"line","stroke":"#ffff00","strokeWidth":4.5},"encoding":{"x":{"field":"i","type":"quantitative"},"y":{"field":"p","type":"quantitative"}}},
{"data":{"name":"signals"},"mark":{"type":"point","shape":"triangle-down","filled":true,"color":"#00e000","opacity":1,"size":110},"encoding":{"x":{"field":"i","type":"quantitative"},"y":{"field":"p","type":"quantitative"}}},
{"data":{"values":[{"i":22.9,"p":18.75}]},"mark":{"type":"point","shape":"circle","filled":true,"color":"#e83a3a","opacity":1,"size":170},"encoding":{"x":{"field":"i","type":"quantitative"},"y":{"field":"p","type":"quantitative"}}},
{"data":{"values":[{"i":22.95,"p":18.79}]},"mark":{"type":"point","shape":"circle","filled":true,"color":"#ffc4c4","opacity":1,"size":25},"encoding":{"x":{"field":"i","type":"quantitative"},"y":{"field":"p","type":"quantitative"}}},
{"data":{"values":[{"i":43.9,"p":13.57}]},"mark":{"type":"point","shape":"square","filled":true,"color":"#0a6a14","opacity":1,"size":150},"encoding":{"x":{"field":"i","type":"quantitative"},"y":{"field":"p","type":"quantitative"}}},
{"data":{"values":[{"i":80.9,"p":13.57}]},"mark":{"type":"point","shape":"square","filled":true,"color":"#0c3a6a","opacity":1,"size":150},"encoding":{"x":{"field":"i","type":"quantitative"},"y":{"field":"p","type":"quantitative"}}},
{"data":{"values":[{"i":113.9,"p":13.57}]},"mark":{"type":"point","shape":"square","filled":true,"color":"#7c4410","opacity":1,"size":150},"encoding":{"x":{"field":"i","type":"quantitative"},"y":{"field":"p","type":"quantitative"}}},
{"data":{"name":"badges"},"mark":{"type":"text","fontSize":12,"color":"#ffffff","font":"Noto Sans CJK SC"},"encoding":{"x":{"field":"i","type":"quantitative"},"y":{"field":"p","type":"quantitative"},"text":{"field":"b"}}},
{"data":{"values":[{"i":129.2,"p":24.84}]},"mark":{"type":"point","shape":"diamond","filled":false,"stroke":"#666666","opacity":1,"size":120},"encoding":{"x":{"field":"i","type":"quantitative"},"y":{"field":"p","type":"quantitative"}}},
{"data":{"values":[{"i":11.06,"p":24.84}]},"mark":{"type":"point","shape":"circle","filled":true,"color":"#5c5c5c","opacity":1,"size":130},"encoding":{"x":{"field":"i","type":"quantitative"},"y":{"field":"p","type":"quantitative"}}},
{"data":{"values":[{"i":11.06,"p":24.84}]},"mark":{"type":"point","shape":"M -0.6 -0.25 L 0 0.35 L 0.6 -0.25","filled":false,"stroke":"#1c1c1c","strokeWidth":1.5,"opacity":1,"size":36},"encoding":{"x":{"field":"i","type":"quantitative"},"y":{"field":"p","type":"quantitative"}}},
{"data":{"values":[{"i":131.5,"p":24.84}]},"mark":{"type":"point","shape":"square","filled":false,"stroke":"#777777","strokeWidth":2,"opacity":1,"size":100},"encoding":{"x":{"field":"i","type":"quantitative"},"y":{"field":"p","type":"quantitative"}}},
{"data":{"values":[{"i":131.85,"p":24.84}]},"mark":{"type":"point","shape":"square","filled":true,"color":"#777777","opacity":1,"size":35},"encoding":{"x":{"field":"i","type":"quantitative"},"y":{"field":"p","type":"quantitative"}}},
{"data":{"name":"texts"},"mark":{"type":"text","align":"left","baseline":"middle","fontSize":12,"font":"Noto Sans CJK SC"},"encoding":{"x":{"field":"i","type":"quantitative"},"y":{"field":"p","type":"quantitative"},"text":{"field":"t"},"color":{"field":"tone","type":"nominal","scale":{"domain":["gray","white","yellow","magenta","green","blue","red"],"range":["#c0c0c0","#ffffff","#ffff00","#ff00ff","#00ff00","#0000ff","#ff2020"]},"legend":null}}}
]},
{"layer":[
{"data":{"name":"gridVol"},"mark":{"type":"rule","stroke":"#8c0000","strokeDash":[1,3],"strokeWidth":1},"encoding":{"y":{"field":"v","type":"quantitative","scale":{"domain":[-64.2,5031],"nice":false,"zero":false},"axis":null}}},
{"data":{"values":[{"v":-29}]},"mark":{"type":"rule","stroke":"#a00000","strokeWidth":2},"encoding":{"y":{"field":"v","type":"quantitative"}}},
{"data":{"name":"bars"},"mark":{"type":"bar","size":6,"strokeWidth":1.2},"encoding":{"x":{"field":"i","type":"quantitative"},"y":{"field":"vol","type":"quantitative"},"y2":{"datum":0},"stroke":{"field":"vk","type":"nominal","legend":null},"fill":{"field":"vk","type":"nominal","legend":null}}},
{"data":{"name":"bars"},"mark":{"type":"line","stroke":"#ffffff","strokeWidth":1.1},"encoding":{"x":{"field":"i","type":"quantitative"},"y":{"field":"v5","type":"quantitative"}}},
{"data":{"name":"bars"},"mark":{"type":"line","stroke":"#ffff00","strokeWidth":1.1},"encoding":{"x":{"field":"i","type":"quantitative"},"y":{"field":"v10","type":"quantitative"}}},
{"data":{"values":[{"i":0.32,"v":1649}]},"mark":{"type":"point","shape":"circle","filled":true,"color":"#5c5c5c","opacity":1,"size":130},"encoding":{"x":{"field":"i","type":"quantitative"},"y":{"field":"v","type":"quantitative"}}},
{"data":{"values":[{"i":0.32,"v":1649}]},"mark":{"type":"point","shape":"M -0.6 -0.25 L 0 0.35 L 0.6 -0.25","filled":false,"stroke":"#1c1c1c","strokeWidth":1.5,"opacity":1,"size":36},"encoding":{"x":{"field":"i","type":"quantitative"},"y":{"field":"v","type":"quantitative"}}},
{"data":{"name":"volTexts"},"mark":{"type":"text","align":"left","baseline":"middle","fontSize":12,"font":"Noto Sans CJK SC"},"encoding":{"x":{"field":"i","type":"quantitative"},"y":{"field":"v","type":"quantitative"},"text":{"field":"t"},"color":{"field":"tone","type":"nominal","legend":null}}}
]}
]}
